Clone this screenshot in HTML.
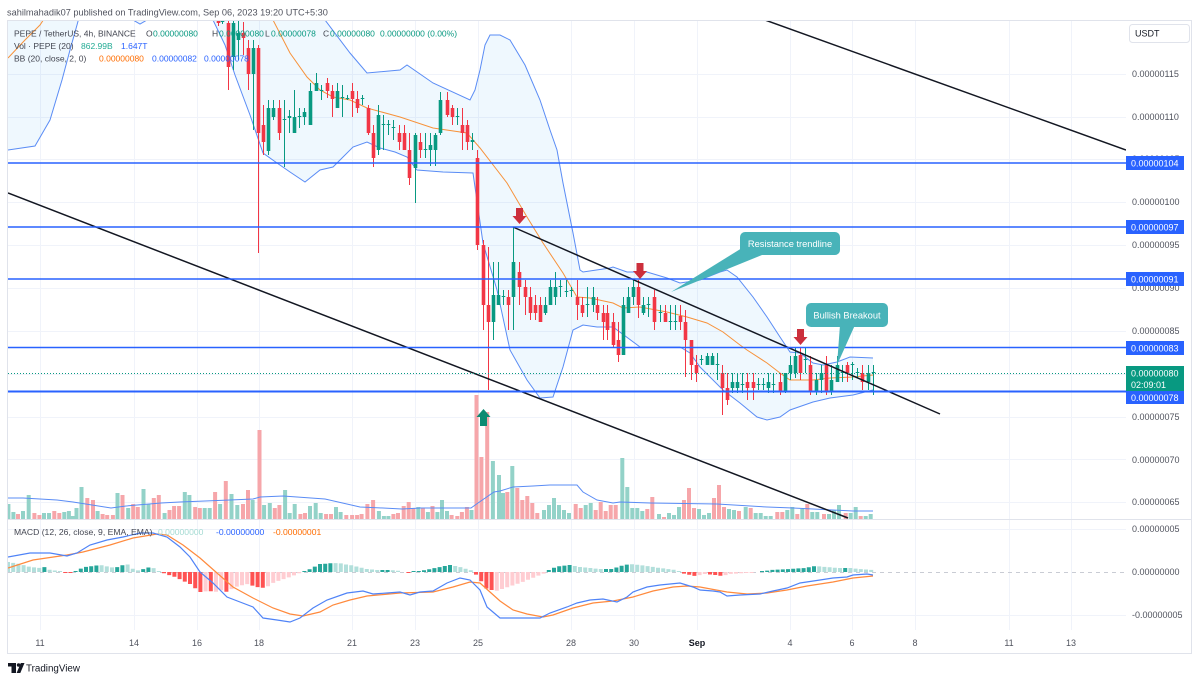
<!DOCTYPE html>
<html><head><meta charset="utf-8">
<style>
html,body{margin:0;padding:0;background:#fff;}
body{width:1200px;height:681px;overflow:hidden;position:relative;font-family:"Liberation Sans",Arial,sans-serif;}
svg{position:absolute;left:0;top:0;}
</style></head><body>
<svg width="1200" height="681" viewBox="0 0 1200 681" xmlns="http://www.w3.org/2000/svg" font-family="Liberation Sans, Arial, sans-serif">
<defs>
<clipPath id="pp"><rect x="8" y="21" width="1118" height="498"/></clipPath>
<clipPath id="mp"><rect x="8" y="521" width="1118" height="108"/></clipPath>
</defs>
<rect x="0" y="0" width="1200" height="681" fill="#fff"/>

<!-- grid -->
<g stroke="#f0f3fa" stroke-width="1">
<path d="M40.5 21V630M134.5 21V630M197.5 21V630M259.5 21V630M352.5 21V630M415.5 21V630M478.5 21V630M571.5 21V630M634.5 21V630M697.5 21V630M790.5 21V630M852.5 21V630M915.5 21V630M1009.5 21V630M1071.5 21V630"/>
<path d="M8 74.5H1126M8 117.5H1126M8 159.5H1126M8 202.5H1126M8 245.5H1126M8 288.5H1126M8 331.5H1126M8 374.5H1126M8 417.5H1126M8 459.5H1126M8 502.5H1126M8 529.5H1126M8 615.5H1126"/>
</g>
<line x1="8" y1="572.5" x2="1126" y2="572.5" stroke="#c9ccd4" stroke-width="1" stroke-dasharray="4,4"/>

<g clip-path="url(#pp)">
<!-- BB fill -->
<polygon fill="rgba(33,150,243,0.07)" points="8,-50 320,-50 325,20 350,53 367,73 400,70 407,65 433,83 470,100 475,90 480,70 485,45 490,35 500,35 510,40 525,65 540,100 550,130 557,150 563,183 573,233 580,270 583,272 610,268 613,267 627,272 647,272 667,278 680,283 700,280 720,272 727,270 737,277 753,297 767,317 780,337 790,352 800,353 813,363 823,365 837,362 850,357 873,358 873,390 853,395 830,398 813,402 790,410 780,417 767,420 757,417 740,403 723,390 700,367 690,353 680,347 640,347 613,327 597,327 583,325 573,330 563,367 553,397 540,398 527,380 510,350 497,290 483,243 473,173 443,172 417,170 407,157 395,152 380,148 367,142 353,147 333,167 320,170 305,182 290,172 277,163 263,153 250,115 235,75 225,45 213,20 205,-50 152,-50 147,20 140,24 133,20 128,-50 85,-50 81,10 77,25 70,50 62,80 50,120 35,146 8,150"/>

<!-- volume -->
<path fill="none" stroke="#93d2c8" stroke-width="4" d="M8.4 519V504M13.4 519V512M23 519V511M28.7 519V495M44 519V513M49 519V513M64.3 519V512M68.9 519V511M72.7 519V516M76.5 519V508M81.5 519V487M97.6 519V511M117.5 519V493M128.2 519V508M143.5 519V489M148.5 519V504M164.6 519V513M184.8 519V492M189.4 519V495M204.7 519V508M209.7 519V508M220.1 519V504M231.5 519V494M237.3 519V505M252.6 519V500M264.1 519V505M269.8 519V503M285.1 519V490M289.7 519V513M294.7 519V504M310 519V506M315.7 519V503M320.7 519V513M336 519V507M340.6 519V512M378.9 519V511M383.9 519V516M388.4 519V516M418.3 519V507M427.9 519V512M437.4 519V512M442 519V500M447 519V511M471.5 519V510M492.9 519V461M499 519V475M503 519V493M512.3 519V466M544 519V510M549 519V505M554 519V498M559 519V505M564 519V510M569 519V513M585.7 519V505M590.7 519V503M622.3 519V458M627.3 519V487M632.3 519V508M637.3 519V508M642.3 519V511M659 519V514M669 519V513M674 519V515M679 519V507M699 519V509M704 519V515M709 519V513M729 519V509M734 519V510M745.7 519V507M755.7 519V513M760.7 519V513M765.7 519V516M770.7 519V516M787.3 519V510M792.3 519V507M802.3 519V509M812.3 519V512M817.3 519V512M829 519V514M834 519V510M839 519V505M850.7 519V513M855.7 519V507M865.7 519V516M870.7 519V514"/>
<path fill="none" stroke="#f6a6aa" stroke-width="4" d="M18 519V514M34.4 519V513M39.4 519V515M54.3 519V511M59.3 519V513M87.3 519V498M93 519V500M102.6 519V514M107.2 519V515M112.9 519V515M122.5 519V495M133.2 519V504M137.8 519V507M153.8 519V498M158.8 519V495M169.5 519V510M174.1 519V506M179.1 519V506M195.2 519V507M199.8 519V508M215.1 519V492M225.8 519V481M243 519V504M248 519V490M259.5 519V430M274.8 519V508M279.4 519V505M300.4 519V514M305 519V513M326.1 519V514M331 519V514M346.3 519V515M352.1 519V515M357.1 519V515M361.6 519V514M367.4 519V504M373.1 519V500M393.4 519V514M398 519V513M403.7 519V506M408.7 519V502M413.3 519V508M422.9 519V508M432.5 519V506M451.6 519V515M457.3 519V516M461.9 519V512M466.9 519V507M476.5 519V395M481.4 519V457M487.2 519V412M507.3 519V492M517.3 519V488M522.3 519V500M527.3 519V496M532.3 519V503M537.3 519V513M575.7 519V504M580.7 519V508M595.7 519V510M600.7 519V502M605.7 519V511M610.7 519V505M615.7 519V505M647.3 519V509M652.3 519V497M664 519V517M684 519V500M689 519V488M694 519V508M714 519V498M719 519V485M724 519V507M739 519V511M750.7 519V508M777.3 519V512M782.3 519V512M797.3 519V514M807.3 519V504M824 519V514M845.7 519V513M860.7 519V516"/>
<polyline fill="none" stroke="#5a8cf5" stroke-width="1" points="8,498 23,498 57,500 73,502 111,508 126,506 161,503 180,502 230,500 253,499 260,497 283,496 325,499 360,507 383,508 402,509 421,508 471,508 478,503 494,492 500,491 513,487 533,486 550,485 577,485 583,492 597,500 613,503 620,502 650,503 717,504 767,507 793,508 833,510 853,511 873,511"/>

<!-- BB lines -->
<polyline fill="none" stroke="#5a8cf5" stroke-width="1" points="8,-50 320,-50 325,20 350,53 367,73 400,70 407,65 433,83 470,100 475,90 480,70 485,45 490,35 500,35 510,40 525,65 540,100 550,130 557,150 563,183 573,233 580,270 583,272 610,268 613,267 627,272 647,272 667,278 680,283 700,280 720,272 727,270 737,277 753,297 767,317 780,337 790,352 800,353 813,363 823,365 837,362 850,357 873,358"/>
<polyline fill="none" stroke="#5a8cf5" stroke-width="1" points="8,150 35,146 50,120 62,80 70,50 77,25 81,10 85,-50 128,-50 133,20 140,24 147,20 152,-50 205,-50 213,20 225,45 235,75 250,115 263,153 277,163 290,172 305,182 320,170 333,167 353,147 367,142 380,148 395,152 407,157 417,170 443,172 473,173 483,243 497,290 510,350 527,380 540,398 553,397 563,367 573,330 583,325 597,327 613,327 640,347 680,347 690,353 700,367 723,390 740,403 757,417 767,420 780,417 790,410 813,402 830,398 853,395 873,390"/>
<polyline fill="none" stroke="#f7923a" stroke-width="1" points="8,58 25,40 40,25 50,10 55,-50 268,-50 273,20 290,53 307,77 320,90 333,97 350,100 367,108 400,117 433,128 467,133 480,148 507,183 527,217 543,243 563,273 577,297 590,298 613,303 623,308 640,307 667,312 687,317 707,323 723,332 740,345 747,350 767,363 780,373 790,380 813,380 830,378 853,377 873,375"/>

<!-- candles -->
<path fill="none" stroke="#089981" stroke-width="1" d="M222.5 20V24M233.5 20V70M238.5 20V60M253.5 40V130M268.5 100V155M273.5 100V120M284.5 100V167M289.5 110V133M294.5 90V133M299.5 108V128M304.5 108V125M310.5 83V125M316.5 73V91M321.5 85V100M337.5 83V108M342.5 85V117M347.5 95V100M362.5 95V105M378.5 105V155M383.5 115V150M388.5 120V135M393.5 120V140M415.5 133V203M425.5 133V158M430.5 133V166M435.5 133V166M440.5 92V135M457.5 108V125M472.5 133V150M493.5 262V340M498.5 262V305M503.5 290V305M513.5 227V330M545.5 297V315M550.5 280V305M555.5 272V305M560.5 280V297M566.5 280V297M571.5 287V297M587.5 287V317M593.5 287V312M623.5 297V355M628.5 287V313M633.5 280V305M643.5 297V315M648.5 297V317M660.5 305V322M670.5 305V330M675.5 305V330M701.5 355V365M707.5 353V365M712.5 353V365M717.5 353V380M732.5 373V393M737.5 373V393M742.5 373V393M758.5 378V390M763.5 378V390M768.5 373V393M773.5 373V393M785.5 373V393M790.5 356V380M795.5 347V378M805.5 347V373M816.5 373V395M821.5 365V393M831.5 365V395M837.5 356V382M842.5 365V382M852.5 362V380M857.5 368V378M868.5 365V390M873.5 365V395"/>
<path fill="none" stroke="#089981" stroke-width="3.6" d="M222.5 20V22M233.5 23V57M238.5 33V40M253.5 48V74M268.5 108V151M273.5 108V117M284.5 119V120M289.5 116V118M294.5 117V133M299.5 116V117M304.5 112V117M310.5 91V125M316.5 83V91M321.5 90V91M337.5 91V108M342.5 97V98M347.5 98V99M362.5 98V99M378.5 115V150M383.5 124V125M388.5 124V125M393.5 127V128M415.5 135V168M425.5 149V150M430.5 145V150M435.5 135V150M440.5 100V133M457.5 116V117M472.5 140V142M493.5 295V322M498.5 295V305M503.5 296V297M513.5 262V297M545.5 305V313M550.5 287V305M555.5 287V297M560.5 286V287M566.5 291V292M571.5 290V291M587.5 304V305M593.5 297V305M623.5 305V355M628.5 297V313M633.5 287V297M643.5 305V313M648.5 304V305M660.5 312V313M670.5 321V322M675.5 321V322M701.5 359V360M707.5 356V365M712.5 356V365M717.5 364V365M732.5 382V388M737.5 382V388M742.5 384V385M758.5 384V385M763.5 384V385M768.5 382V388M773.5 384V385M785.5 373V392M790.5 365V373M795.5 356V373M805.5 359V360M816.5 380V392M821.5 373V380M831.5 380V392M837.5 365V382M842.5 372V373M852.5 364V365M857.5 372V373M868.5 373V382M873.5 372V373"/>
<path fill="none" stroke="#f23645" stroke-width="1" d="M218.5 20V26M228.5 20V90M243.5 22V55M248.5 40V90M258.5 45V253M263.5 105V155M279.5 100V140M327.5 78V98M332.5 85V117M352.5 83V117M357.5 91V113M368.5 105V135M373.5 125V167M399.5 125V150M404.5 125V150M409.5 133V185M420.5 133V158M447.5 92V117M452.5 105V125M462.5 108V150M467.5 120V150M477.5 150V250M483.5 240V330M488.5 247V390M508.5 290V330M519.5 262V305M525.5 280V315M530.5 287V320M535.5 295V320M540.5 297V322M577.5 280V320M582.5 297V317M597.5 297V320M603.5 305V340M607.5 305V340M613.5 313V348M618.5 322V362M638.5 280V318M654.5 290V330M665.5 305V322M680.5 305V330M685.5 310V377M691.5 340V380M696.5 355V382M722.5 365V415M727.5 373V405M747.5 373V400M753.5 373V400M780.5 373V395M800.5 347V380M810.5 356V395M826.5 356V395M847.5 362V382M862.5 365V390"/>
<path fill="none" stroke="#f23645" stroke-width="3.6" d="M218.5 20V23M228.5 23V67M243.5 33V38M248.5 48V74M258.5 48V133M263.5 125V142M279.5 108V133M327.5 83V91M332.5 91V99M352.5 91V99M357.5 99V108M368.5 108V133M373.5 133V158M399.5 133V142M404.5 133V150M409.5 150V178M420.5 142V150M447.5 100V115M452.5 108V117M462.5 125V133M467.5 125V142M477.5 158V245M483.5 245V305M488.5 305V322M508.5 297V305M519.5 272V287M525.5 287V297M530.5 297V313M535.5 305V313M540.5 305V322M577.5 297V305M582.5 305V313M597.5 305V313M603.5 313V322M607.5 313V330M613.5 322V345M618.5 340V355M638.5 287V305M654.5 297V322M665.5 313V322M680.5 316V322M685.5 322V340M691.5 340V365M696.5 365V373M722.5 373V388M727.5 388V400M747.5 382V388M753.5 382V388M780.5 382V392M800.5 355V373M810.5 365V392M826.5 365V392M847.5 365V373M862.5 373V382"/>

<!-- drawings -->
<line x1="765" y1="20" x2="1126" y2="150" stroke="#131722" stroke-width="1.5"/>
<line x1="8" y1="193" x2="848" y2="518" stroke="#131722" stroke-width="1.5"/>
<line x1="513" y1="227" x2="940" y2="414" stroke="#131722" stroke-width="1.5"/>
<g stroke="#2962ff">
<line x1="8" y1="163" x2="1126" y2="163" stroke-width="1.5"/>
<line x1="8" y1="227" x2="1126" y2="227" stroke-width="1.5"/>
<line x1="8" y1="279" x2="1126" y2="279" stroke-width="1.5"/>
<line x1="8" y1="347.5" x2="1126" y2="347.5" stroke-width="1.5"/>
<line x1="8" y1="391.5" x2="1126" y2="391.5" stroke-width="2"/>
</g>
<line x1="8" y1="373.5" x2="1126" y2="373.5" stroke="#089981" stroke-width="1" stroke-dasharray="1,2"/>
<polygon fill="#cc2f3c" points="516,208 523,208 523,216 526.5,216 519.5,224 512.5,216 516,216"/>
<polygon fill="#cc2f3c" points="636.5,263 643.5,263 643.5,271 647,271 640,279 633,271 636.5,271"/>
<polygon fill="#cc2f3c" points="797,329 804,329 804,337 807.5,337 800.5,345 793.5,337 797,337"/>
<polygon fill="#0d8b72" points="483.5,409 490.5,417 487,417 487,426 480,426 480,417 476.5,417"/>
</g>

<!-- MACD -->
<g clip-path="url(#mp)" fill="none">
<path stroke="#26a69a" stroke-width="4" d="M44.4 572V567.1M75.6 572V571M80.8 572V568.6M86 572V566.9M91.2 572V566.2M96.4 572V565.5M117.2 572V567.1M122.4 572V565.3M143.2 572V569.1M148.4 572V567.5M304.4 572V571M309.6 572V569.2M314.8 572V566.6M320 572V564M325.2 572V563.7M330.4 572V563.3M382.4 572V570M387.6 572V570M413.6 572V571M418.8 572V571M424 572V570.2M429.2 572V569.2M434.4 572V568.1M439.6 572V567.1M444.8 572V566M450 572V565M548.8 572V570M554 572V567.8M559.2 572V566.2M564.4 572V565.6M569.6 572V565M606 572V569M611.2 572V569M616.4 572V567.5M621.6 572V565.7M626.8 572V564.6M762 572V571M767.2 572V570.6M772.4 572V569.9M777.6 572V569.6M782.8 572V569.4M788 572V569.1M793.2 572V568.8M798.4 572V568.4M803.6 572V568.1M808.8 572V567.2M814 572V566.2M845.2 572V568"/>
<path stroke="#b2dfdb" stroke-width="4" d="M8 572V562M13.2 572V562.9M18.4 572V563.7M23.6 572V565.1M28.8 572V566.6M34 572V567.4M39.2 572V567.9M49.6 572V569.8M54.8 572V570.5M60 572V571M101.6 572V565.3M106.8 572V566.4M112 572V567.4M127.6 572V564.5M132.8 572V568.8M138 572V570.4M153.6 572V568.1M158.8 572V571M335.6 572V563.1M340.8 572V563.4M346 572V564.5M351.2 572V565.3M356.4 572V566.5M361.6 572V567.7M366.8 572V569M372 572V569.5M377.2 572V570M392.8 572V570.3M398 572V570.8M455.2 572V566M460.4 572V567.1M465.6 572V568.7M470.8 572V570.3M574.8 572V566M580 572V567M585.2 572V567.5M590.4 572V568M595.6 572V568.6M600.8 572V569M632 572V564.2M637.2 572V564.7M642.4 572V565.4M647.6 572V566.1M652.8 572V566.9M658 572V567.7M663.2 572V568.4M668.4 572V569.1M673.6 572V569.8M678.8 572V571M819.2 572V566.4M824.4 572V566.9M829.6 572V567.3M834.8 572V567.7M840 572V568M850.4 572V568M855.6 572V568.6M860.8 572V569.1M866 572V569.5M871.2 572V569.9"/>
<path stroke="#ff5252" stroke-width="4" d="M65.2 572V573M70.4 572V573M164 572V573.3M169.2 572V575.1M174.4 572V576.8M179.6 572V579.1M184.8 572V581.6M190 572V584M195.2 572V588.2M200.4 572V592M210.8 572V591.2M226.4 572V591.8M252.4 572V585.6M257.6 572V587.1M262.8 572V587.7M408.4 572V573M476 572V574.6M481.2 572V581.3M486.4 572V588.5M491.6 572V590M684 572V573.6M689.2 572V574.8M694.4 572V575.9M710 572V574.5M715.2 572V575M720.4 572V575.8"/>
<path stroke="#ffcdd2" stroke-width="4" d="M205.6 572V591.4M216 572V591.7M221.2 572V590.2M231.6 572V589.1M236.8 572V586.6M242 572V585.3M247.2 572V584.1M268 572V586.2M273.2 572V582.9M278.4 572V580.9M283.6 572V579.1M288.8 572V577.4M294 572V575.4M299.2 572V573.3M496.8 572V590.7M502 572V589M507.2 572V587.3M512.4 572V585.5M517.6 572V583.8M522.8 572V581.9M528 572V579.8M533.2 572V577.7M538.4 572V575.6M543.6 572V573.6M699.6 572V575.1M704.8 572V574M725.6 572V575.1M730.8 572V573.9M736 572V573.6M741.2 572V573.3M746.4 572V573M751.6 572V573"/>
<polyline stroke="#ff8a3d" stroke-width="1.2" points="8,568 33,560 67,555 83,552 110,545 133,538 157,534 167,535 183,545 200,558 217,573 233,587 253,598 273,608 290,614 303,616 320,612 333,605 350,600 367,596 400,593 433,592 453,587 470,582 480,583 490,592 500,601 513,610 527,614 543,617 553,615 573,608 593,603 613,601 633,597 653,591 673,587 687,586 700,587 727,592 747,594 767,593 787,590 807,586 833,582 853,578 873,576"/>
<polyline stroke="#4f83f7" stroke-width="1.2" points="8,557 30,553 50,553 67,556 77,553 90,545 107,540 123,537 140,533 153,533 167,537 180,547 190,557 200,572 213,583 227,597 240,602 253,607 263,618 277,620 290,622 300,618 313,608 327,600 347,593 363,591 373,594 387,593 400,592 410,595 420,592 433,591 447,583 460,578 470,580 480,590 487,607 500,618 520,618 540,618 550,613 567,607 577,603 590,600 603,599 617,602 627,597 633,592 647,587 660,585 680,583 693,587 700,590 713,591 720,592 727,596 740,595 760,594 773,591 787,588 800,583 820,580 833,578 847,577 853,575 867,574 873,575"/>
</g>

<!-- frame -->
<rect x="7.5" y="20.5" width="1184" height="633" fill="none" stroke="#e0e3eb" stroke-width="1"/>
<line x1="7.5" y1="519.5" x2="1191.5" y2="519.5" stroke="#e0e3eb" stroke-width="1"/>

<!-- header -->
<text x="7" y="15.5" font-size="9.2" fill="#50535e">sahilmahadik07 published on TradingView.com, Sep 06, 2023 19:20 UTC+5:30</text>

<!-- legend -->
<g font-size="8.5" fill="#434651">
<text x="14" y="36.5">PEPE / TetherUS, 4h, BINANCE<tspan x="146">O</tspan><tspan x="153" fill="#089981">0.00000080</tspan><tspan x="212">H</tspan><tspan x="219" fill="#089981">0.00000080</tspan><tspan x="265">L</tspan><tspan x="271" fill="#089981">0.00000078</tspan><tspan x="323">C</tspan><tspan x="330" fill="#089981">0.00000080</tspan><tspan x="380" fill="#089981">0.00000000 (0.00%)</tspan></text>
<text x="14" y="49">Vol · PEPE (20)<tspan x="81" fill="#22ab94">862.99B</tspan><tspan x="121" fill="#2962ff">1.647T</tspan></text>
<text x="14" y="61.5">BB (20, close, 2, 0)<tspan x="99" fill="#ff6d00">0.00000080</tspan><tspan x="152" fill="#2962ff">0.00000082</tspan><tspan x="204" fill="#2962ff">0.00000078</tspan></text>
</g>
<g font-size="8.6" fill="#434651">
<text x="14" y="535">MACD (12, 26, close, 9, EMA, EMA)<tspan x="158" fill="#a6dbd3">0.00000000</tspan><tspan x="216" fill="#2962ff">-0.00000000</tspan><tspan x="273" fill="#ff6d00">-0.00000001</tspan></text>
</g>

<!-- callouts -->
<rect x="740" y="232" width="100" height="23" rx="5" fill="#48b3b9"/>
<polygon points="671,292 742,248 762,255" fill="#48b3b9"/>
<text x="790" y="247" font-size="9.3" fill="#fff" text-anchor="middle">Resistance trendline</text>
<rect x="806" y="303" width="82" height="24" rx="5" fill="#48b3b9"/>
<polygon points="837,365 840,325 855,325" fill="#48b3b9"/>
<text x="847" y="318.5" font-size="9.3" fill="#fff" text-anchor="middle">Bullish Breakout</text>

<!-- price axis labels -->
<g font-size="9" fill="#50535e">
<text x="1132" y="77">0.00000115</text>
<text x="1132" y="120">0.00000110</text>
<text x="1132" y="162">0.00000105</text>
<text x="1132" y="205">0.00000100</text>
<text x="1132" y="248">0.00000095</text>
<text x="1132" y="291">0.00000090</text>
<text x="1132" y="334">0.00000085</text>
<text x="1132" y="420">0.00000075</text>
<text x="1132" y="463">0.00000070</text>
<text x="1132" y="505">0.00000065</text>
<text x="1132" y="532">0.00000005</text>
<text x="1132" y="575">0.00000000</text>
<text x="1132" y="618">-0.00000005</text>
</g>
<rect x="1129.5" y="24.5" width="60" height="18" rx="3" fill="#fff" stroke="#e0e3eb"/>
<text x="1135" y="36.5" font-size="9" fill="#131722">USDT</text>
<g font-size="9" fill="#fff">
<rect x="1126" y="156" width="58" height="14" fill="#2962ff"/><text x="1131" y="166.5">0.00000104</text>
<rect x="1126" y="220" width="58" height="14" fill="#2962ff"/><text x="1131" y="230.5">0.00000097</text>
<rect x="1126" y="272" width="58" height="14" fill="#2962ff"/><text x="1131" y="282.5">0.00000091</text>
<rect x="1126" y="341" width="58" height="14" fill="#2962ff"/><text x="1131" y="351.5">0.00000083</text>
<rect x="1126" y="366" width="58" height="25" fill="#089981"/><text x="1131" y="376.5">0.00000080</text><text x="1131" y="388">02:09:01</text>
<rect x="1126" y="391" width="58" height="13" fill="#2962ff"/><text x="1131" y="401">0.00000078</text>
</g>

<!-- time axis -->
<g font-size="9" fill="#50535e" text-anchor="middle">
<text x="40" y="646">11</text><text x="134" y="646">14</text><text x="197" y="646">16</text><text x="259" y="646">18</text>
<text x="352" y="646">21</text><text x="415" y="646">23</text><text x="478" y="646">25</text><text x="571" y="646">28</text>
<text x="634" y="646">30</text><text x="697" y="646" font-weight="bold" fill="#131722">Sep</text><text x="790" y="646">4</text>
<text x="852" y="646">6</text><text x="915" y="646">8</text><text x="1009" y="646">11</text><text x="1071" y="646">13</text>
</g>

<!-- logo -->
<g fill="#131722">
<rect x="8" y="663" width="8" height="3.5"/><rect x="11.5" y="663" width="4.5" height="10"/>
<circle cx="18.6" cy="665" r="1.8"/><polygon points="20.8,663 24.5,663 20.3,673 16.6,673"/>
</g>
<text x="26" y="671.5" font-size="9.8" fill="#131722">TradingView</text>
</svg>
</body></html>
